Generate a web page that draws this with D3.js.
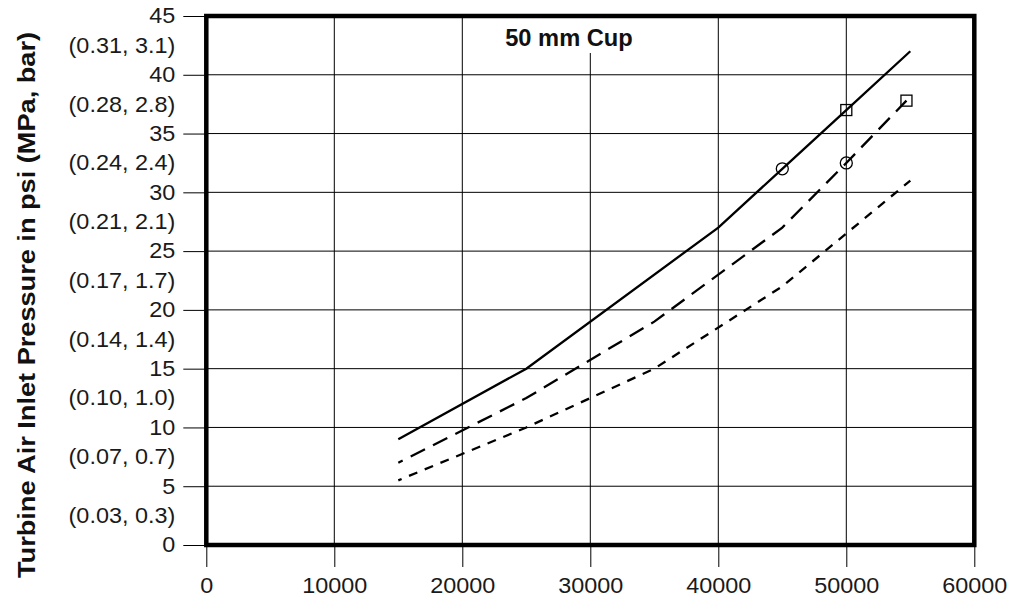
<!DOCTYPE html>
<html>
<head>
<meta charset="utf-8">
<script src="https://cdn.jsdelivr.net/npm/d3@7"></script>
<style>
  html, body { margin: 0; padding: 0; background: #fff; }
  svg { display: block; font-family: "Liberation Sans", Arial, sans-serif; }
</style>
</head>
<body>
<svg id="chart" width="1024" height="598"></svg>
<script>
// ---- data ----
const xTicks = [0, 10000, 20000, 30000, 40000, 50000, 60000];
const yTicks = [0, 5, 10, 15, 20, 25, 30, 35, 40, 45];
const mpaPositions = [2.5, 7.5, 12.5, 17.5, 22.5, 27.5, 32.5, 37.5, 42.5];
const mpaLabels = ["(0.03, 0.3)", "(0.07, 0.7)", "(0.10, 1.0)", "(0.14, 1.4)", "(0.17, 1.7)",
                   "(0.21, 2.1)", "(0.24, 2.4)", "(0.28, 2.8)", "(0.31, 3.1)"];

const solidX = [15000, 25000, 40000, 45000, 50000, 55000];
const solidY = [9, 15, 27, 32, 37, 42];
const longDashX = [15000, 25000, 35000, 45000, 50000, 54700];
const longDashY = [7, 12.5, 19, 27, 32.5, 37.8];
const shortDashX = [15000, 25000, 35000, 45000, 50000, 55000];
const shortDashY = [5.5, 10, 15, 22, 26.5, 31];

const circleMarkers = [[45000, 32], [50000, 32.5]];
const squareMarkers = [[50000, 37], [54700, 37.8]];

const chartTitle = "50 mm Cup";
const yTitle = "Turbine Air Inlet Pressure in psi (MPa, bar)";

// ---- layout ----
const svg = d3.select("#chart");
const pLeft = 206.3, pRight = 974.3, pTop = 16, pBottom = 545;
const x = d3.scaleLinear().domain([0, 60000]).range([pLeft, pRight]);
const y = d3.scaleLinear().domain([0, 45]).range([pBottom, pTop]);
const FS = 21.5, SX = 1.09;

// gridlines
const grid = svg.append("g");
grid.selectAll(".vg").data(xTicks.slice(1, -1)).enter().append("line")
  .attr("x1", d => x(d)).attr("x2", d => x(d)).attr("y1", pTop).attr("y2", pBottom)
  .attr("stroke", "#000").attr("stroke-width", 1);
grid.selectAll(".hg").data(yTicks.slice(1, -1)).enter().append("line")
  .attr("x1", pLeft).attr("x2", pRight).attr("y1", d => y(d)).attr("y2", d => y(d))
  .attr("stroke", "#000").attr("stroke-width", 1);

// axes
function stretch(sel) {
  sel.selectAll("text").each(function() {
    const t = d3.select(this);
    const tx = +t.attr("x") || 0, ty = +t.attr("y") || 0;
    t.attr("x", 0).attr("y", 0)
     .attr("transform", `translate(${tx},${ty}) scale(${SX},1)`);
  });
}
const xAxis = svg.append("g").attr("transform", `translate(0,${pBottom})`)
  .call(d3.axisBottom(x).tickValues(xTicks).tickFormat(d3.format("d")).tickSize(22).tickPadding(11));
xAxis.select(".domain").remove();
xAxis.selectAll("line").attr("stroke", "#000");
xAxis.selectAll("text").attr("font-size", FS).attr("fill", "#1a1a1a").attr("font-family", "Liberation Sans, Arial");
stretch(xAxis);

const yAxis = svg.append("g").attr("transform", `translate(${pLeft},0)`)
  .call(d3.axisLeft(y).tickValues(yTicks).tickFormat(d3.format("d")).tickSize(23).tickPadding(8));
yAxis.select(".domain").remove();
yAxis.selectAll("line").attr("stroke", "#000");
yAxis.selectAll("text").attr("font-size", FS).attr("fill", "#1a1a1a").attr("font-family", "Liberation Sans, Arial");
stretch(yAxis);

const mAxis = svg.append("g").attr("transform", `translate(${pLeft},0)`)
  .call(d3.axisLeft(y).tickValues(mpaPositions).tickFormat((d, i) => mpaLabels[i]).tickSize(0).tickPadding(31));
mAxis.select(".domain").remove();
mAxis.selectAll("line").remove();
mAxis.selectAll("text").attr("font-size", FS).attr("fill", "#1a1a1a").attr("font-family", "Liberation Sans, Arial");
stretch(mAxis);

// title with white background
const tb = svg.append("g");
tb.append("rect").attr("x", 501).attr("y", pTop).attr("width", 137).attr("height", 37).attr("fill", "#fff");
tb.append("text").attr("transform", `translate(569,46) scale(1.03,1)`)
  .attr("text-anchor", "middle").attr("font-size", 23).attr("font-weight", "bold")
  .attr("fill", "#111").text(chartTitle);

// y-axis title
svg.append("text")
  .attr("transform", `translate(34.5,305) rotate(-90)`)
  .attr("text-anchor", "middle").attr("font-size", 24).attr("font-weight", "bold")
  .attr("textLength", 546).attr("lengthAdjust", "spacingAndGlyphs")
  .attr("fill", "#111").text(yTitle);

// lines
const line = d3.line().x(d => x(d[0])).y(d => y(d[1]));
function series(xs, ys) { return xs.map((v, i) => [v, ys[i]]); }
function endOnDash(path, dash, gap) {
  const L = path.node().getTotalLength();
  const P = dash + gap;
  const off = (P - (L % P) + dash - 1) % P;
  path.attr("stroke-dasharray", `${dash},${gap}`).attr("stroke-dashoffset", off);
}
svg.append("path").datum(series(solidX, solidY)).attr("d", line)
  .attr("fill", "none").attr("stroke", "#000").attr("stroke-width", 2.3);
const ld = svg.append("path").datum(series(longDashX, longDashY)).attr("d", line)
  .attr("fill", "none").attr("stroke", "#000").attr("stroke-width", 2.3);
endOnDash(ld, 16, 9);
const sd = svg.append("path").datum(series(shortDashX, shortDashY)).attr("d", line)
  .attr("fill", "none").attr("stroke", "#000").attr("stroke-width", 2.3);
endOnDash(sd, 9, 8);

// markers
svg.selectAll(".cm").data(circleMarkers).enter().append("circle")
  .attr("cx", d => x(d[0])).attr("cy", d => y(d[1])).attr("r", 6)
  .attr("fill", "none").attr("stroke", "#000").attr("stroke-width", 1.3);
svg.selectAll(".sm").data(squareMarkers).enter().append("rect")
  .attr("x", d => x(d[0]) - 5.5).attr("y", d => y(d[1]) - 5.5).attr("width", 11).attr("height", 11)
  .attr("fill", "none").attr("stroke", "#000").attr("stroke-width", 1.3);

// frame
svg.append("rect").attr("x", pLeft).attr("y", pTop).attr("width", pRight - pLeft).attr("height", pBottom - pTop)
  .attr("fill", "none").attr("stroke", "#000").attr("stroke-width", 4.5);
</script>
</body>
</html>
